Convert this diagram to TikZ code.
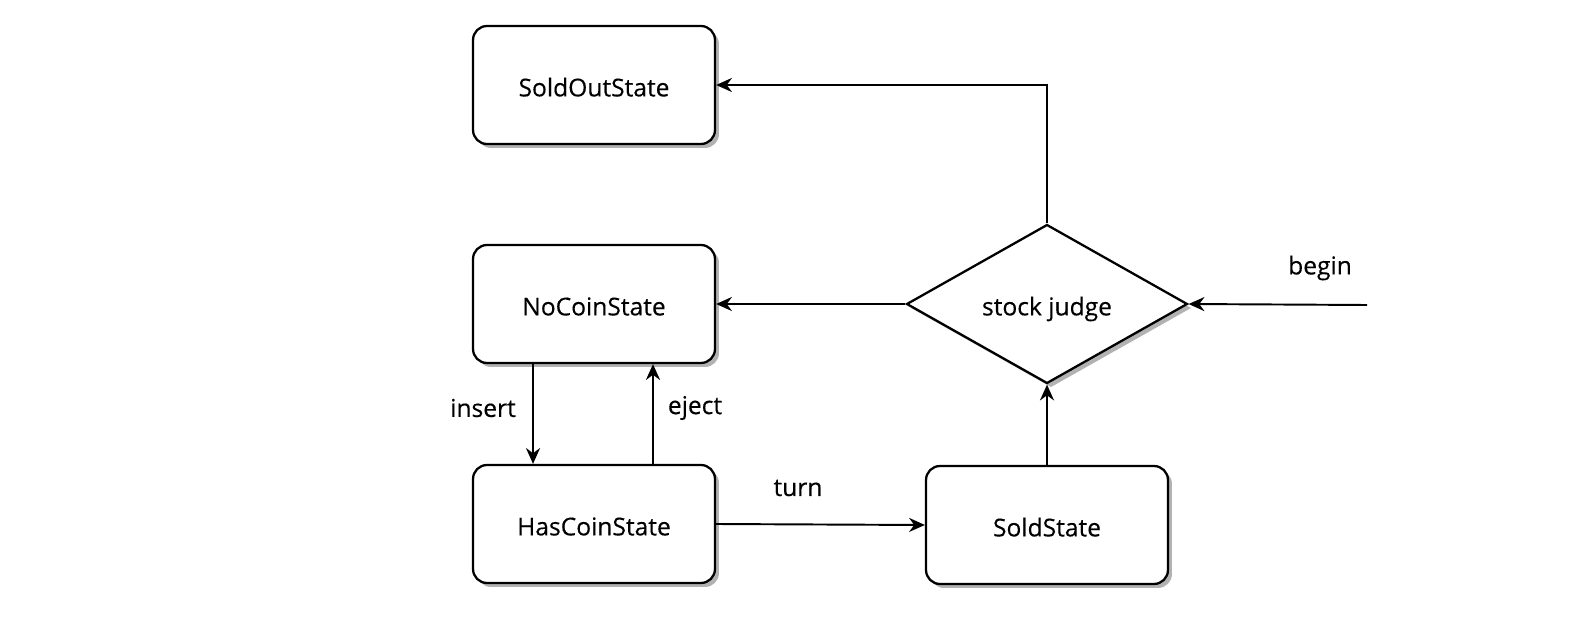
\documentclass[tikz,border=0pt]{standalone}
\usepackage{fontspec}
\newfontfamily\diagfont{Open Sans}[FakeBold=0.3]
\usetikzlibrary{shapes.geometric,arrows.meta,shadows}
\tikzset{
  statebox/.style={draw, line width=1.3pt, rounded corners=0.28cm,
    minimum width=4.84cm, minimum height=2.36cm, fill=white, inner sep=0pt,
    text height=3ex, text depth=0pt,
    drop shadow={shadow xshift=0.08cm, shadow yshift=-0.08cm, fill=black!30, opacity=1}},
  judgebox/.style={draw, line width=1.3pt, shape=diamond, shape aspect=1.77,
    minimum width=5.62cm, minimum height=3.18cm, fill=white, inner sep=0pt,
    text height=3ex, text depth=0pt,
    drop shadow={shadow xshift=0.08cm, shadow yshift=-0.08cm, fill=black!30, opacity=1}},
  conn/.style={line width=1.1pt, -{Stealth[length=9pt,width=8pt]}},
  lbl/.style={inner sep=0pt}
}
\begin{document}
\begin{tikzpicture}[x=0.02cm, y=-0.02cm, font=\diagfont\fontsize{14}{17}\selectfont]
\useasboundingbox (0,0) rectangle (1592,618);
\node[statebox] (soldout) at (594,85) {SoldOutState};
\node[statebox] (nocoin) at (594,304) {NoCoinState};
\node[statebox] (hascoin) at (594,524) {HasCoinState};
\node[statebox] (sold) at (1047,525) {SoldState};
\node[judgebox] (judge) at (1047,304) {stock judge};
\coordinate (start) at (1367,305);
\node[lbl] (beginlbl) at (1320,268) {begin};
\node[lbl] (insertlbl) at (483,408) {insert};
\node[lbl] (ejectlbl) at (695,408) {eject};
\node[lbl] (turnlbl) at (798,488) {turn};
\draw[conn] (start) -- (judge.east);
\draw[conn] (judge.north) |- (soldout.east);
\draw[conn] (judge.west) -- (nocoin.east);
\draw[conn] ([xshift=-1.22cm]nocoin.south) -- ([xshift=-1.22cm]hascoin.north);
\draw[conn] ([xshift=1.18cm]hascoin.north) -- ([xshift=1.18cm]nocoin.south);
\draw[conn] (hascoin.east) -- (sold.west);
\draw[conn] (sold.north) -- (judge.south);
\end{tikzpicture}
\end{document}
